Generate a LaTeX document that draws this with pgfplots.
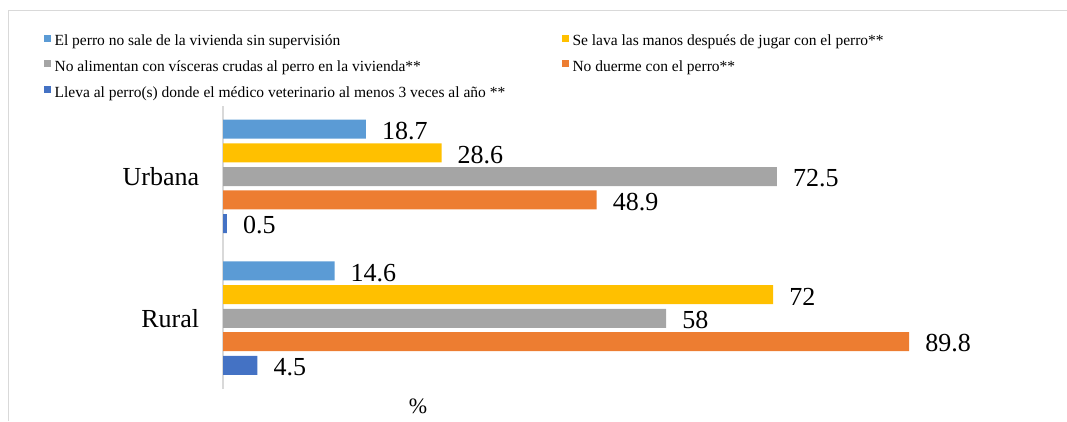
\documentclass[border=0pt]{standalone}
\usepackage{pgfplots}
\pgfplotsset{compat=1.18}
\usepackage{fontspec}
\setmainfont{Liberation Serif}
\definecolor{cLB}{HTML}{5B9BD5}
\definecolor{cYe}{HTML}{FFC000}
\definecolor{cGr}{HTML}{A5A5A5}
\definecolor{cOr}{HTML}{ED7D31}
\definecolor{cDB}{HTML}{4472C4}
\definecolor{cFrame}{HTML}{D9D9D9}
\begin{document}
\begin{tikzpicture}
\useasboundingbox (0,0) rectangle (1067pt,421pt);
\draw[cFrame, line width=1pt] (8.5pt,0pt) -- (8.5pt,410pt) -- (1067pt,410pt);
\begin{axis}[
  at={(223pt,31.8pt)}, anchor=south west,
  scale only axis, width=764pt, height=283.6pt,
  xmin=0, xmax=100, ymin=-0.5, ymax=1.5,
  hide x axis,
  axis y line*=left,
  y axis line style={cFrame, line width=1.5pt, -},
  ytick={0,1}, yticklabels={Rural,Urbana},
  major tick length=0pt,
  yticklabel style={font=\fontsize{26}{30}\selectfont, inner sep=0pt, xshift=-23.7pt, text=black},
  xbar, bar width=19pt,
  clip=false,
  /pgf/number format/assume math mode=true,
  nodes near coords,
  every node near coord/.append style={font=\fontsize{26}{30}\selectfont, anchor=west, inner sep=0pt, xshift=16pt, yshift=-1.8pt, text=black},
  legend columns=2,
  legend image code/.code={\fill[#1] (0pt,0.8pt) rectangle (7pt,7.8pt);},
  legend style={draw=none, fill=none, inner sep=0pt, outer sep=0pt,
    at={(axis description cs:-0.2339,1.2507)}, anchor=north west,
    font=\fontsize{15.5}{18}\selectfont, text=black,
    nodes={inner sep=0pt, text height=10.5pt, text depth=3.5pt},
    row sep=10.8pt,
    /tikz/every even column/.append style={column sep=57pt},
    /tikz/every odd column/.append style={column sep=3.3pt}},
  legend cell align=left,
]
\addplot[fill=cLB, draw=none, bar shift=47.5pt] coordinates {(18.7,1) (14.6,0)};
\addlegendentry{El perro no sale de la vivienda sin supervisión}
\addplot[fill=cYe, draw=none, bar shift=23.7pt] coordinates {(28.6,1) (72,0)};
\addlegendentry{Se lava las manos después de jugar con el perro**}
\addplot[fill=cGr, draw=none, bar shift=0pt] coordinates {(72.5,1) (58,0)};
\addlegendentry{No alimentan con vísceras crudas al perro en la vivienda**}
\addplot[fill=cOr, draw=none, bar shift=-23.3pt] coordinates {(48.9,1) (89.8,0)};
\addlegendentry{No duerme con el perro**}
\addplot[fill=cDB, draw=none, bar shift=-47pt] coordinates {(0.5,1) (4.5,0)};
\addlegendentry{Lleva al perro(s) donde el médico veterinario al menos 3 veces al año **}
\node[font=\fontsize{22}{26}\selectfont, text=black] at (axis description cs:0.2552,-0.0592) {\%};
\end{axis}
\end{tikzpicture}
\end{document}
